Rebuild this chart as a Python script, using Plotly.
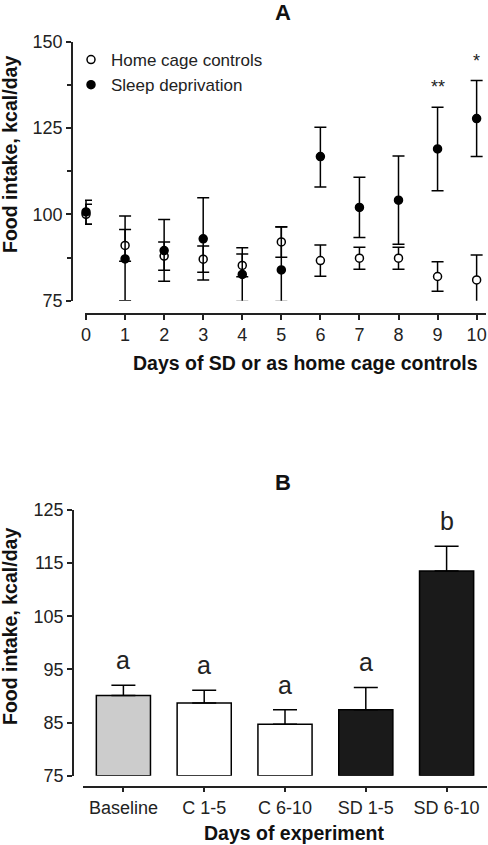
import plotly.graph_objects as go

W, H = 488, 845

# ---------------- Panel A data ----------------
days = [0, 1, 2, 3, 4, 5, 6, 7, 8, 9, 10]
home_mean = [100.0, 91.0, 87.9, 87.0, 85.2, 92.0, 86.6, 87.3, 87.3, 82.0, 81.0]
home_err = [2.9, 4.6, 4.1, 3.8, 3.3, 4.4, 4.5, 3.2, 3.2, 4.3, 7.2]
sd_mean = [100.7, 87.1, 89.5, 92.9, 82.6, 83.9, 116.7, 102.0, 104.1, 118.9, 127.7]
sd_err_up = [3.4, 12.4, 9.0, 11.9, 7.7, 12.4, 8.5, 8.7, 12.8, 12.1, 11.0]
sd_err_down = [3.6, 12.1, 8.9, 11.9, 7.8, 9.1, 8.8, 8.7, 12.8, 12.1, 11.0]
sig_days = [9, 10]
sig_labels = ["**", "*"]
a_yticks = [75, 100, 125, 150]
a_xticks = days

# ---------------- Panel B data ----------------
groups = ["Baseline", "C 1-5", "C 6-10", "SD 1-5", "SD 6-10"]
b_mean = [90.1, 88.7, 84.7, 87.4, 113.5]
b_sem = [1.9, 2.4, 2.7, 4.2, 4.7]
b_letters = ["a", "a", "a", "a", "b"]
b_colors = ["#cccccc", "#ffffff", "#ffffff", "#1a1a1a", "#1a1a1a"]
b_yticks = [75, 85, 95, 105, 115, 125]

FONT = "Liberation Sans, Arial, sans-serif"
AX = "#222222"

def px(x):
    return x / W

def py(y):
    return 1 - y / H

fig = go.Figure()

fig.add_trace(go.Scatter(
    x=days, y=home_mean, mode="markers", name="Home cage controls",
    marker=dict(symbol="circle", size=8, color="white", line=dict(color="black", width=1.5)),
    error_y=dict(type="data", array=home_err, color="black", thickness=1.5, width=6),
    cliponaxis=False, xaxis="x", yaxis="y"))
fig.add_trace(go.Scatter(
    x=days, y=sd_mean, mode="markers", name="Sleep deprivation",
    marker=dict(symbol="circle", size=8, color="black", line=dict(color="black", width=1.5)),
    error_y=dict(type="data", symmetric=False, array=sd_err_up, arrayminus=sd_err_down,
                 color="black", thickness=1.5, width=6),
    cliponaxis=False, xaxis="x", yaxis="y"))

fig.add_trace(go.Bar(
    x=groups, y=[m - 75 for m in b_mean], base=75, width=0.67,
    marker=dict(color=b_colors, line=dict(color="black", width=1.5)),
    error_y=dict(type="data", symmetric=False, array=b_sem, arrayminus=[0] * len(b_sem),
                 color="black", thickness=1.5, width=12),
    showlegend=False, xaxis="x2", yaxis="y2"))

annotations = []
# significance marks
for d, lab in zip(sig_days, sig_labels):
    i = days.index(d)
    annotations.append(dict(x=d, y=sd_mean[i] + sd_err_up[i], xref="x", yref="y", text=lab,
                            showarrow=False, xanchor="center", yanchor="bottom", yshift=8,
                            font=dict(family=FONT, size=18, color="#222")))
# letters over bars
for g, m, s, l in zip(groups, b_mean, b_sem, b_letters):
    annotations.append(dict(x=g, y=m + s, xref="x2", yref="y2", text=l, showarrow=False,
                            xanchor="center", yanchor="bottom", yshift=9,
                            font=dict(family=FONT, size=25, color="#222")))

def ptext(x, y, text, size, angle=0):
    return dict(x=px(x), y=py(y), xref="paper", yref="paper", text=text, showarrow=False,
                xanchor="center", yanchor="middle", textangle=angle,
                font=dict(family=FONT, size=size, color="#111"))

# panel titles
annotations.append(ptext(283, 13, "<b>A</b>", 22))
annotations.append(ptext(283, 482, "<b>B</b>", 22))
# axis titles
annotations.append(ptext(305, 363, "<b>Days of SD or as home cage controls</b>", 19.5))
annotations.append(ptext(294, 833, "<b>Days of experiment</b>", 19.5))
annotations.append(ptext(10, 155, "<b>Food intake, kcal/day</b>", 19.5, -90))
annotations.append(ptext(10, 627, "<b>Food intake, kcal/day</b>", 19.5, -90))

axis_common = dict(showgrid=False, zeroline=False, showline=True, linecolor=AX, linewidth=1.5,
                   ticks="outside", ticklen=5, tickwidth=1.5, tickcolor=AX, automargin=False,
                   tickfont=dict(family=FONT, size=18, color="#222"))

fig.update_layout(
    template="none",
    width=W, height=H, margin=dict(l=0, r=0, t=0, b=0, pad=0, autoexpand=False),
    paper_bgcolor="white", plot_bgcolor="white",
    showlegend=True,
    legend=dict(x=px(71), y=py(42), xanchor="left", yanchor="top",
                font=dict(family=FONT, size=17, color="#222"),
                bgcolor="rgba(0,0,0,0)", itemwidth=30, tracegroupgap=0),
    xaxis=dict(domain=[px(85), px(486)], range=[-0.026, 10.24], anchor="free", position=py(314),
               tickvals=a_xticks, **axis_common),
    yaxis=dict(domain=[py(300.7), py(41.5)], range=[75, 150], anchor="free", position=px(72),
               tickvals=a_yticks,
               minor=dict(tickvals=[87.5, 112.5, 137.5], ticks="outside", ticklen=4,
                          tickwidth=1.5, tickcolor=AX),
               **axis_common),
    xaxis2=dict(domain=[px(83), px(487)], range=[-0.5, 4.5], anchor="free", position=py(786.5),
                type="category", **axis_common),
    yaxis2=dict(domain=[py(775.7), py(510)], range=[75, 125], anchor="free", position=px(73),
                tickvals=b_yticks, **axis_common),
    annotations=annotations,
)

fig.write_html("out.html", config={"displayModeBar": False},
               post_script="document.body.style.margin='0px';")
